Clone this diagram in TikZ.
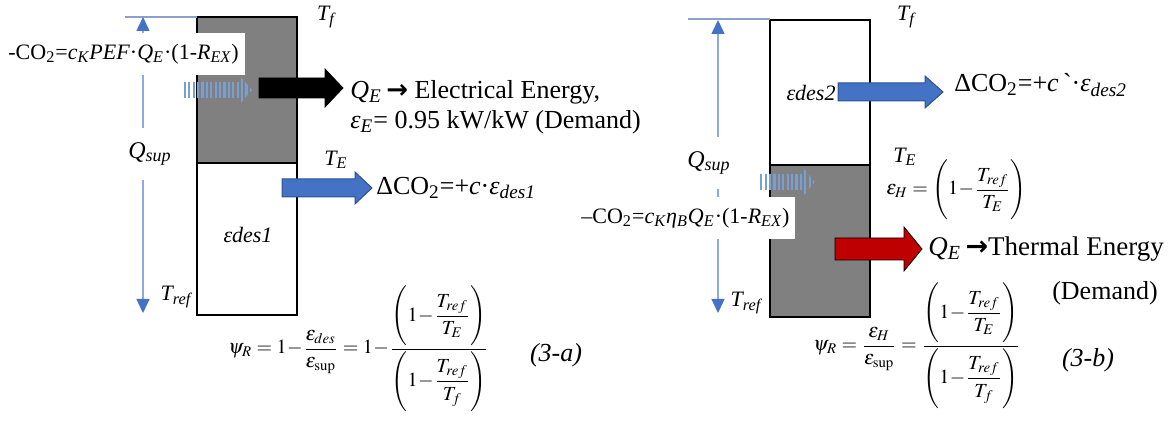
\documentclass[tikz,border=0pt]{standalone}
\usepackage{amsmath}
\usepackage{mathptmx}
\usepackage[no-math]{fontspec}
\setmainfont{Liberation Serif}
\newfontfamily\arrowfont{DejaVu Sans}
\usetikzlibrary{arrows.meta,patterns.meta}

\definecolor{boxgray}{RGB}{128,128,128}
\definecolor{qblue}{RGB}{143,170,220}
\definecolor{tipblue}{RGB}{68,114,196}
\definecolor{arrblue}{RGB}{68,114,196}
\definecolor{arredge}{RGB}{47,82,143}
\definecolor{stripeblue}{RGB}{118,160,212}
\definecolor{heatred}{RGB}{192,0,0}

\newcommand{\thickto}{{\arrowfont\bfseries →}}
\newcommand{\ratiofrac}{\dfrac{\Biggl(1\!-\!\dfrac{T_{ref}}{T_E}\Biggr)}{\Biggl(1\!-\!\dfrac{T_{ref}}{T_f}\Biggr)}}

% block arrow: [style]{x start}{x tip}{y}{half shaft}{half head}{head length}
\newcommand{\blockarrow}[7][]{%
  \filldraw[#1] ({#2},{#4-#5}) -- ({#3-#7},{#4-#5}) -- ({#3-#7},{#4-#6})
    -- ({#3},{#4}) -- ({#3-#7},{#4+#6}) -- ({#3-#7},{#4+#5})
    -- ({#2},{#4+#5}) -- cycle;}

\tikzset{
  boxline/.style={line width=1.3pt, black},
  topline/.style={line width=0.6pt, qblue!80!gray},
  qline/.style={line width=0.7pt, qblue,
    -{Triangle[width=6.5pt,length=7pt,color=tipblue]}},
  biglbl/.style={inner sep=1pt, font=\fontsize{13}{15}\selectfont},
  templbl/.style={inner sep=1pt, font=\fontsize{11}{13}\selectfont\itshape},
  qlbl/.style={templbl, font=\fontsize{12}{14}\selectfont\itshape, outer ysep=6pt},
  whitebox/.style={fill=white, minimum height=21pt, inner xsep=3pt,
    font=\fontsize{11}{13}\selectfont},
  eqlbl/.style={inner sep=0pt, font=\fontsize{10}{12}\selectfont},
  striped/.style={draw=none, pattern={Lines[angle=90,distance=2.2pt,line width=1.1pt]},
    pattern color=stripeblue},
  bluearr/.style={fill=arrblue, draw=arredge, line width=0.5pt},
}

\begin{document}
\begin{tikzpicture}[x=0.5pt, y=-0.5pt]
\useasboundingbox (0,0) rectangle (1173,421);

% ---------- (3-a) electrical output ----------
\coordinate (axA) at (143,0);
\coordinate (botA) at (143,313);
\fill[boxgray] (197,17) rectangle (297,163);
\draw[boxline] (197,17) rectangle (297,315);
\draw[boxline] (197,163) -- (297,163);
\draw[topline] (125,17) -- (197,17);

\node[qlbl] (qsupA) at (150,154) {Q\textsubscript{sup}};
\draw[qline] (qsupA.north -| axA) -- (143,17);
\draw[qline] (qsupA.south -| axA) -- (botA);

\node[whitebox, anchor=west] (co2A) at (2,54)
  {-CO\textsubscript{2}=\textit{c\textsubscript{K}PEF}·\textit{Q\textsubscript{E}}·(1-\textit{R\textsubscript{EX}})};

\blockarrow[striped]{182}{252}{90}{8}{14}{12}
\blockarrow[fill=black]{259}{343}{88}{10}{19}{18}
\blockarrow[bluearr]{282}{372}{188}{9}{16}{17}

\node[templbl] (tfA) at (326,17) {T\textsubscript{f}};
\node[templbl] (teA) at (336,160) {T\textsubscript{E}};
\node[templbl] (trefA) at (176,297) {T\textsubscript{ref}};
\node[templbl] (desA) at (248,235) {εdes1};

\node[biglbl, anchor=west] (elecA) at (348,92)
  {\textit{Q\textsubscript{E}}\,\thickto\ Electrical Energy,};
\node[biglbl, anchor=west] (effA) at (348,122)
  {\textit{ε\textsubscript{E}}= 0.95 kW/kW (Demand)};
\node[biglbl, anchor=west] (dco2A) at (374,188)
  {ΔCO\textsubscript{2}=+\textit{c}·\textit{ε\textsubscript{des1}}};

\node[eqlbl, anchor=west] (psiA) at (228,349)
  {$\displaystyle \psi_R =1\!-\!\frac{\varepsilon_{des}}{\varepsilon_{\mathrm{sup}}}
    =1\!-\!\ratiofrac$};
\node[biglbl, font=\fontsize{13}{15}\selectfont\itshape] (tagA) at (556,355) {(3-a)};

% ---------- (3-b) thermal output ----------
\coordinate (axB) at (718,0);
\coordinate (botB) at (718,313);
\fill[boxgray] (770,165) rectangle (870,317);
\draw[boxline] (770,20) rectangle (870,317);
\draw[boxline] (770,165) -- (870,165);
\draw[topline] (688,19) -- (770,19);

\node[qlbl] (qsupB) at (709,163) {Q\textsubscript{sup}};
\draw[qline] (qsupB.north -| axB) -- (718,20);
\draw[qline] (qsupB.south -| axB) -- (botB);

\node[whitebox, anchor=west] (co2B) at (575,218)
  {–CO\textsubscript{2}=\textit{c\textsubscript{K}η\textsubscript{B}Q\textsubscript{E}}·(1-\textit{R\textsubscript{EX}})};

\blockarrow[striped]{758}{815}{182}{8}{13}{11}
\blockarrow[bluearr]{838}{943}{92}{9}{16}{18}
\blockarrow[fill=heatred]{835}{922}{249}{11}{22}{18}

\node[templbl] (tfB) at (906,17) {T\textsubscript{f}};
\node[templbl] (teB) at (905,157) {T\textsubscript{E}};
\node[templbl] (trefB) at (746,303) {T\textsubscript{ref}};
\node[templbl] (desB) at (811,93) {εdes2};

\node[biglbl, anchor=west] (dco2B) at (952,85)
  {ΔCO\textsubscript{2}=+\textit{c}\,\textasciigrave·\textit{ε\textsubscript{des2}}};
\node[eqlbl, anchor=west] (effB) at (886,190)
  {$\displaystyle \varepsilon_H = \Biggl(1\!-\!\frac{T_{ref}}{T_E}\Biggr)$};
\node[biglbl, anchor=west, font=\fontsize{13.5}{15}\selectfont] (heatB) at (926,249)
  {\textit{Q\textsubscript{E}}\,\thickto Thermal Energy};
\node[biglbl] (demB) at (1105,293) {(Demand)};

\node[eqlbl, anchor=west] (psiB) at (813,346)
  {$\displaystyle \psi_R = \frac{\varepsilon_H}{\varepsilon_{\mathrm{sup}}}
    = \ratiofrac$};
\node[biglbl, font=\fontsize{13}{15}\selectfont\itshape] (tagB) at (1088,360) {(3-b)};

\end{tikzpicture}
\end{document}
